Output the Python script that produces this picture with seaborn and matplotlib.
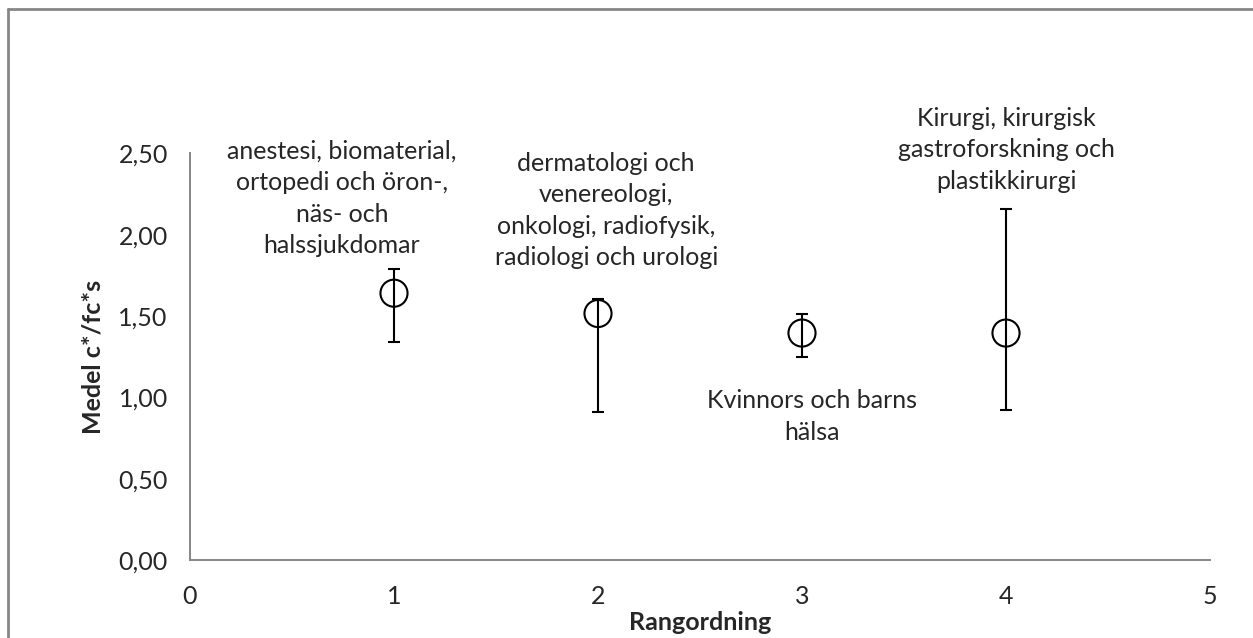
import matplotlib
matplotlib.use("Agg")
import matplotlib.pyplot as plt
import seaborn as sns
import pandas as pd
from matplotlib.lines import Line2D

# data
rank = [1, 2, 3, 4]
mean_val = [1.64, 1.515, 1.395, 1.395]
err_low = [1.34, 0.91, 1.25, 0.925]
err_high = [1.79, 1.605, 1.51, 2.155]
labels = [
    "anestesi, biomaterial,\nortopedi och öron-,\nnäs- och\nhalssjukdomar",
    "dermatologi och\nvenereologi,\nonkologi, radiofysik,\nradiologi och urologi",
    "Kvinnors och barns\nhälsa",
    "Kirurgi, kirurgisk\ngastroforskning och\nplastikkirurgi",
]
# label anchor (x in data units, y of top line in data units)
label_x = [0.745, 2.04, 3.05, 4.0]
label_y = [2.585, 2.51, 1.05, 2.785]

y_ticks = [0.0, 0.5, 1.0, 1.5, 2.0, 2.5]
x_ticks = [0, 1, 2, 3, 4, 5]

df = pd.DataFrame({"rank": rank, "mean": mean_val, "lo": err_low, "hi": err_high})

sns.set_style("white")
plt.rcParams["font.family"] = ["Lato", "DejaVu Sans"]
axis_grey = "#868686"
fs = 18

fig = plt.figure(figsize=(12.53, 6.38), dpi=100)
ax = fig.add_axes([190 / 1253, 1 - 560 / 638, 1020 / 1253, (560 - 153.3) / 638])

ax.errorbar(df["rank"], df["mean"],
            yerr=[df["mean"] - df["lo"], df["hi"] - df["mean"]],
            fmt="none", ecolor="black", elinewidth=1.5, capsize=4.5,
            capthick=1.5, zorder=2)
sns.scatterplot(data=df, x="rank", y="mean", ax=ax, marker="o", s=19.5 ** 2,
                facecolor="none", edgecolor="black", linewidth=1.5, zorder=3)

for lx, ly, txt in zip(label_x, label_y, labels):
    ax.text(lx, ly, txt, ha="center", va="top", fontsize=fs,
            linespacing=1.45, clip_on=False)

ax.set_xlim(0, 5)
ax.set_ylim(0, 2.5)
ax.set_xticks(x_ticks)
ax.set_yticks(y_ticks)
ax.set_yticklabels([f"{v:.2f}".replace(".", ",") for v in y_ticks])
ax.tick_params(axis="both", labelsize=fs, length=6, width=1.4, color=axis_grey,
               direction="out")
ax.tick_params(axis="y", pad=10)
ax.tick_params(axis="x", pad=12)
for side in ["top", "right"]:
    ax.spines[side].set_visible(False)
for side in ["left", "bottom"]:
    ax.spines[side].set_color(axis_grey)
    ax.spines[side].set_linewidth(1.4)

ax.set_xlabel("Rangordning", fontsize=fs, fontweight="bold", labelpad=2)
ax.set_ylabel("Medel c*/fc*s", fontsize=fs, fontweight="bold", labelpad=10)

# chart border (left and top visible in the reference)
fig.add_artist(Line2D([8 / 1253, 8 / 1253], [0, 1 - 9 / 638], color=axis_grey,
                      lw=2, transform=fig.transFigure))
fig.add_artist(Line2D([8 / 1253, 1], [1 - 9 / 638, 1 - 9 / 638], color=axis_grey,
                      lw=2, transform=fig.transFigure))

fig.savefig("out.png", dpi=100)
